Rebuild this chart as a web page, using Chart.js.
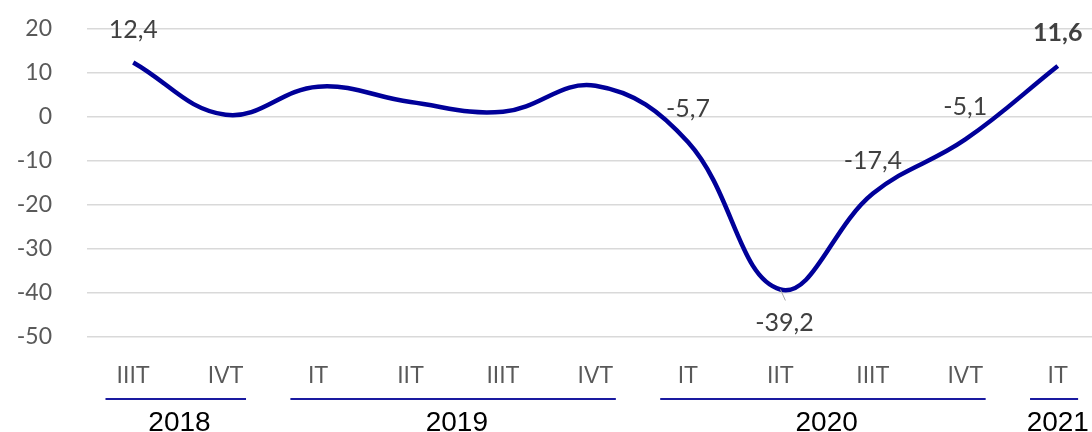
<!DOCTYPE html>
<html>
<head>
<meta charset="utf-8">
<script src="https://cdn.jsdelivr.net/npm/chart.js@4.4.1/dist/chart.umd.min.js"></script>
<style>
  html, body { margin: 0; padding: 0; background: #fff; overflow: hidden; }
  #wrap { width: 1106px; height: 432px; }
</style>
</head>
<body>
<div id="wrap"><canvas id="chart"></canvas></div>
<script>
// quarters and values (%)
const quarters = ['IIIT', 'IVT', 'IT', 'IIT', 'IIIT', 'IVT', 'IT', 'IIT', 'IIIT', 'IVT', 'IT'];
const values = [12.4, 0.5, 6.9, 3.4, 1.2, 7.1, -5.7, -39.2, -17.4, -5.1, 11.6];
const labelText = ['12,4', null, null, null, null, null, '-5,7', '-39,2', '-17,4', '-5,1', '11,6'];
const years = ['2018', '2019', '2020', '2021'];
const yearCounts = [2, 4, 4, 1];
const yTicks = [20, 10, 0, -10, -20, -30, -40, -50];

// data labels
const labelsPlugin = {
  id: 'pointLabels',
  afterDatasetsDraw(chart) {
    const ctx = chart.ctx;
    const meta = chart.getDatasetMeta(0);
    ctx.save();
    ctx.textAlign = 'center';
    ctx.textBaseline = 'middle';
    meta.data.forEach((pt, i) => {
      const t = labelText[i];
      if (!t) return;
      const last = i === values.length - 1;
      ctx.font = (last ? 'bold ' : '') + '25px Lato';
      ctx.fillStyle = '#404040';
      let dx = 0, dy = -33;
      if (values[i] < -30) {
        dx = 4; dy = 33;
        ctx.strokeStyle = '#a6a6a6';
        ctx.lineWidth = 1;
        ctx.beginPath();
        ctx.moveTo(pt.x, pt.y);
        ctx.lineTo(pt.x + 5, pt.y + 11);
        ctx.stroke();
      }
      ctx.fillText(t, pt.x + dx, pt.y + dy);
    });
    ctx.restore();
  }
};

// year groups under the quarter labels
const yearsPlugin = {
  id: 'yearGroups',
  afterDraw(chart) {
    const ctx = chart.ctx;
    const x = chart.scales.x;
    const step = x.getPixelForValue(1) - x.getPixelForValue(0);
    let start = 0;
    ctx.save();
    years.forEach((yr, g) => {
      const end = start + yearCounts[g] - 1;
      const x0 = x.getPixelForValue(start);
      const x1 = x.getPixelForValue(end);
      ctx.strokeStyle = '#1a1aa0';
      ctx.lineWidth = 2;
      ctx.beginPath();
      ctx.moveTo(x0 - step * 0.3, 399);
      ctx.lineTo(x1 + step * 0.22, 399);
      ctx.stroke();
      ctx.fillStyle = '#000';
      ctx.font = '28px "Liberation Sans"';
      ctx.textAlign = 'center';
      ctx.textBaseline = 'alphabetic';
      ctx.fillText(yr, (x0 + x1) / 2, 431);
      start = end + 1;
    });
    ctx.restore();
  }
};

new Chart(document.getElementById('chart').getContext('2d'), {
  type: 'line',
  data: {
    labels: quarters,
    datasets: [{
      data: values,
      borderColor: '#000099',
      borderWidth: 4.5,
      pointRadius: 0,
      tension: 0.4,
      fill: false
    }]
  },
  options: {
    responsive: true,
    maintainAspectRatio: false,
    animation: false,
    layout: { padding: { top: 29, right: 2, left: 0, bottom: 0 } },
    plugins: { legend: { display: false }, tooltip: { enabled: false } },
    scales: {
      x: {
        offset: true,
        grid: { display: false, drawTicks: false },
        border: { display: false },
        ticks: { color: '#595959', font: { family: 'Liberation Sans', size: 23 }, padding: 26, maxRotation: 0, autoSkip: false },
        afterFit(s) { s.height = 95; s.paddingLeft = 0; s.paddingRight = 0; }
      },
      y: {
        min: -50,
        max: 20,
        afterBuildTicks(s) { s.ticks = yTicks.map(v => ({ value: v })); },
        grid: { color: '#d9d9d9', lineWidth: 1.5, drawTicks: false },
        border: { display: false },
        ticks: { color: '#595959', font: { family: 'Lato', size: 23 }, padding: 35 },
        afterFit(s) { s.width = 87; s.paddingTop = 0; s.paddingBottom = 0; }
      }
    }
  },
  plugins: [labelsPlugin, yearsPlugin]
});
</script>
</body>
</html>
